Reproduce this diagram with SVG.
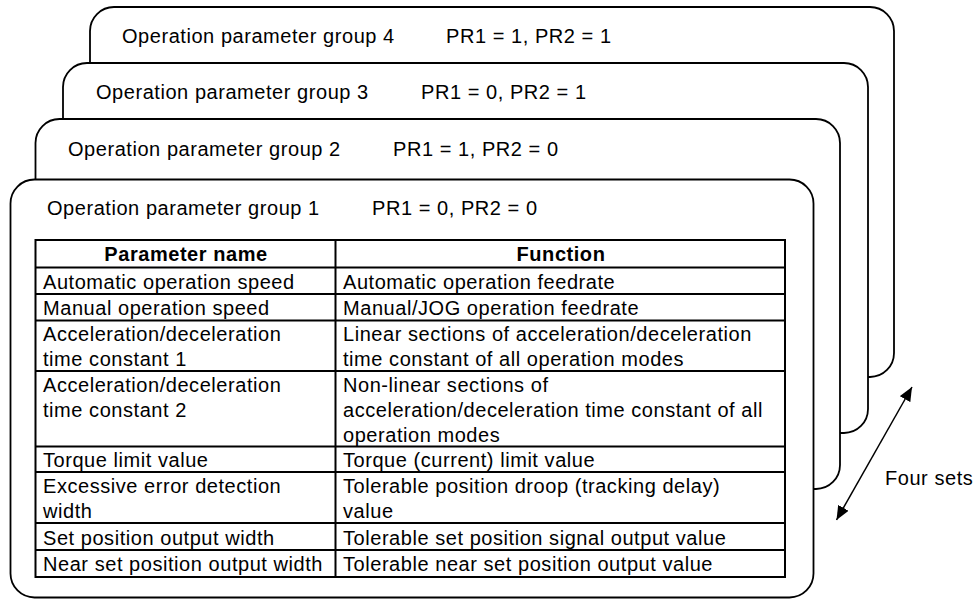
<svg xmlns="http://www.w3.org/2000/svg" width="974" height="599" viewBox="0 0 974 599">
<style>
.card{fill:#fff;stroke:#000;stroke-width:1.8}
.t{font-family:"Liberation Sans",Arial,sans-serif;font-size:20px;letter-spacing:0.55px;fill:#000}
.b{font-weight:bold;text-anchor:middle}
.grid{stroke:#000;stroke-width:2;fill:none}
.conn{stroke:#000;stroke-width:1.5;fill:none}
</style>
<defs>
<marker id="ah2" viewBox="0 0 14 12" refX="14" refY="6" markerWidth="14" markerHeight="12" markerUnits="userSpaceOnUse" orient="auto-start-reverse">
<path d="M0,0 L14,6 L0,12 Z" fill="#000"/>
</marker>
</defs>
<g id="group4">
<rect class="card" x="90" y="7" width="804" height="370" rx="24" ry="24"/>
<text class="t" x="122" y="43">Operation parameter group 4</text>
<text class="t" x="446" y="43">PR1 = 1, PR2 = 1</text>
</g>
<g id="group3">
<rect class="card" x="63" y="63" width="805" height="370" rx="24" ry="24"/>
<text class="t" x="96" y="99">Operation parameter group 3</text>
<text class="t" x="421" y="99">PR1 = 0, PR2 = 1</text>
</g>
<g id="group2">
<rect class="card" x="35.5" y="119" width="804.5" height="370" rx="24" ry="24"/>
<text class="t" x="68" y="155.5">Operation parameter group 2</text>
<text class="t" x="393" y="155.5">PR1 = 1, PR2 = 0</text>
</g>
<g id="group1">
<rect class="card" x="10.5" y="179.5" width="803" height="418" rx="24" ry="24"/>
<text class="t" x="47" y="215">Operation parameter group 1</text>
<text class="t" x="372" y="215">PR1 = 0, PR2 = 0</text>
<g id="table">
<rect class="grid" x="35.5" y="240" width="749.5" height="337"/>
<path class="grid" d="M335.5,240V577 M35.5,267.5H785 M35.5,294H785 M35.5,320.5H785 M35.5,371H785 M35.5,446.5H785 M35.5,472H785 M35.5,523H785 M35.5,550H785"/>
<text class="t b" x="186" y="261">Parameter name</text>
<text class="t b" x="561" y="261">Function</text>
<text class="t" x="43" y="288.5">Automatic operation speed</text>
<text class="t" x="343" y="288.5">Automatic operation feedrate</text>
<text class="t" x="43" y="315">Manual operation speed</text>
<text class="t" x="343" y="315">Manual/JOG operation feedrate</text>
<text class="t" x="43" y="340.5">Acceleration/deceleration</text>
<text class="t" x="43" y="365.5">time constant 1</text>
<text class="t" x="343" y="340.5">Linear sections of acceleration/deceleration</text>
<text class="t" x="343" y="365.5">time constant of all operation modes</text>
<text class="t" x="43" y="391.5">Acceleration/deceleration</text>
<text class="t" x="43" y="416.5">time constant 2</text>
<text class="t" x="343" y="391.5">Non-linear sections of</text>
<text class="t" x="343" y="416.5">acceleration/deceleration time constant of all</text>
<text class="t" x="343" y="441.5">operation modes</text>
<text class="t" x="43" y="467">Torque limit value</text>
<text class="t" x="343" y="467">Torque (current) limit value</text>
<text class="t" x="43" y="493">Excessive error detection</text>
<text class="t" x="43" y="518">width</text>
<text class="t" x="343" y="493">Tolerable position droop (tracking delay)</text>
<text class="t" x="343" y="518">value</text>
<text class="t" x="43" y="544.5">Set position output width</text>
<text class="t" x="343" y="544.5">Tolerable set position signal output value</text>
<text class="t" x="43" y="570.5">Near set position output width</text>
<text class="t" x="343" y="570.5">Tolerable near set position output value</text>
</g>
</g>
<g id="connectors">
<line class="conn" x1="836.5" y1="520" x2="912" y2="387" marker-start="url(#ah2)" marker-end="url(#ah2)"/>
</g>
<g id="label-four-sets">
<text class="t" x="885" y="485">Four sets</text>
</g>
</svg>
